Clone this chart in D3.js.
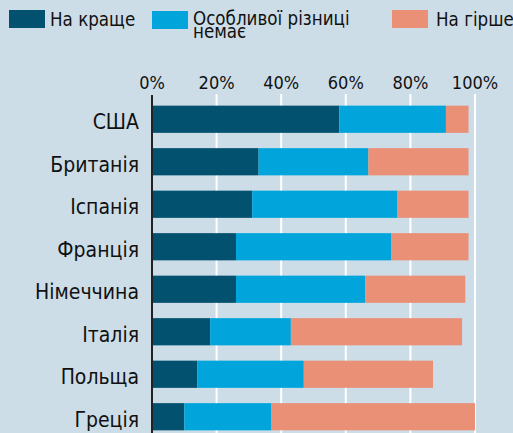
<!DOCTYPE html>
<html>
<head>
<meta charset="utf-8">
<script src="https://cdn.jsdelivr.net/npm/d3@7"></script>
<style>
  body { margin: 0; background: #ccdde8; }
  svg text { font-family: "Liberation Sans Narrow", "DejaVu Sans Condensed", "Roboto", sans-serif; fill: #111; }
</style>
</head>
<body>
<div id="chart"></div>
<script>
// data (percent)
const countries = ["США", "Британія", "Іспанія", "Франція", "Німеччина", "Італія", "Польща", "Греція"];
const better = [58, 33, 31, 26, 26, 18, 14, 10];
const noDiff = [33, 34, 45, 48, 40, 25, 33, 27];
const worse = [7, 31, 22, 24, 31, 53, 40, 63];
const ticks = [0, 20, 40, 60, 80, 100];

const seriesNames = ["На краще", "Особливої різниці немає", "На гірше"];
const colors = ["#02516e", "#02a5db", "#e99076"];

const width = 513;
const height = 433;

const svg = d3.select("#chart")
  .append("svg")
  .attr("width", width)
  .attr("height", height);

svg.append("rect")
  .attr("width", width)
  .attr("height", height)
  .attr("fill", "#ccdde8");

const x = d3.scaleLinear()
  .domain([0, 100])
  .range([152, 475]);

const y = d3.scaleBand()
  .domain(countries)
  .range([98, 438])
  .paddingInner(0.36)
  .paddingOuter(0.18);

const rows = countries.map((c, i) => ({ country: c, better: better[i], noDiff: noDiff[i], worse: worse[i] }));
const stack = d3.stack().keys(["better", "noDiff", "worse"])(rows);

// gridlines
svg.append("g")
  .selectAll("line")
  .data(ticks.slice(1)).enter()
  .append("line")
  .attr("x1", d => x(d))
  .attr("x2", d => x(d))
  .attr("y1", 94)
  .attr("y2", height)
  .attr("stroke", "white")
  .attr("stroke-width", 2);

// tick labels
svg.append("g")
  .selectAll("text")
  .data(ticks).enter()
  .append("text")
  .attr("x", d => x(d))
  .attr("y", 89)
  .attr("text-anchor", "middle")
  .attr("font-size", 18)
  .text(d => d + "%");

// bars
svg.append("g")
  .selectAll("g")
  .data(stack).enter()
  .append("g")
  .attr("fill", (d, i) => colors[i])
  .selectAll("rect")
  .data(d => d).enter()
  .append("rect")
  .attr("x", d => x(d[0]))
  .attr("y", d => y(d.data.country))
  .attr("width", d => x(d[1]) - x(d[0]))
  .attr("height", y.bandwidth());

// zero axis line
svg.append("line")
  .attr("x1", x(0))
  .attr("x2", x(0))
  .attr("y1", 95)
  .attr("y2", height)
  .attr("stroke", "#222")
  .attr("stroke-width", 2);

// country labels
svg.append("g")
  .selectAll("text")
  .data(countries).enter()
  .append("text")
  .attr("x", 139)
  .attr("y", d => y(d) + y.bandwidth() / 2 + 10)
  .attr("text-anchor", "end")
  .attr("font-size", 21)
  .text(d => d);

// legend
const legendX = [9, 152, 392];
const legend = svg.append("g");
legend.selectAll("rect")
  .data(seriesNames).enter()
  .append("rect")
  .attr("x", (d, i) => legendX[i])
  .attr("y", (d, i) => i == 1 ? 11 : 10)
  .attr("width", 36)
  .attr("height", 18)
  .attr("fill", (d, i) => colors[i]);

legend.append("text").attr("x", 50).attr("y", 26).attr("font-size", 18.6).text("На краще");
const t2 = legend.append("text").attr("x", 193).attr("y", 25).attr("font-size", 18.6);
t2.append("tspan").attr("x", 193).text("Особливої різниці");
t2.append("tspan").attr("x", 193).attr("dy", 13).text("немає");
legend.append("text").attr("x", 436).attr("y", 26).attr("font-size", 18.6).text("На гірше");
</script>
</body>
</html>
